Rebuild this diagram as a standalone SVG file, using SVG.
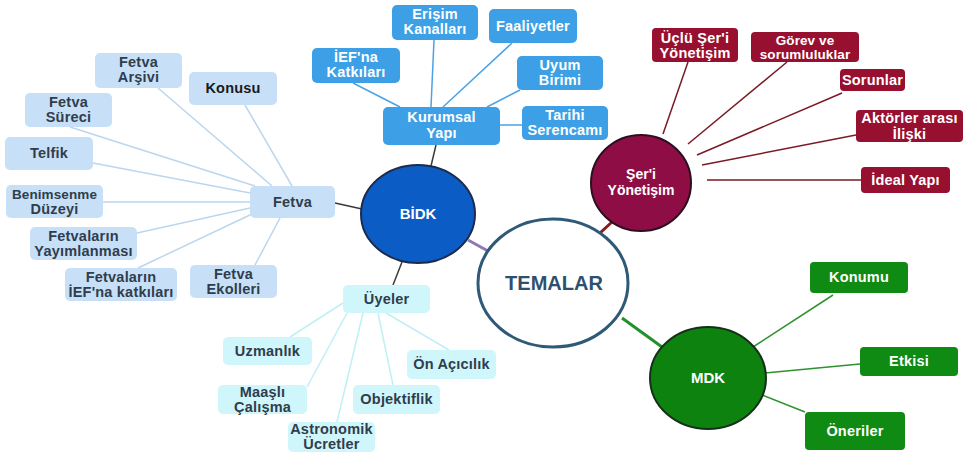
<svg xmlns="http://www.w3.org/2000/svg" width="968" height="452" viewBox="0 0 968 452">
<style>
text{font-family:"Liberation Sans",Arial,sans-serif;font-weight:bold;font-size:14.5px;text-anchor:middle;letter-spacing:0.2px}
.c{font-size:14px;letter-spacing:0}
.s{font-size:13.5px;letter-spacing:0.1px}
.w{fill:#fff}
.d{fill:#2f3d4c}
.k{fill:#1a1a1a}
.bb{fill:#3d9fe6}
.lb{fill:#c7e0f8}
.cy{fill:#cff6fa}
.mr{fill:#98102f}
.gr{fill:#0f8a12}
.l-bb{stroke:#4aa3e6;stroke-width:1.5;fill:none}
.l-lb{stroke:#bcd6ee;stroke-width:1.5;fill:none}
.l-cy{stroke:#bff0f5;stroke-width:1.5;fill:none}
.l-mr{stroke:#7a1a24;stroke-width:1.5;fill:none}
.l-gr{stroke:#2e922e;stroke-width:1.5;fill:none}
.l-dk{stroke:#3a3a3a;stroke-width:1.5;fill:none}
</style>
<rect width="968" height="452" fill="#fff"/>
<g id="connectors">
<line x1="468" y1="240" x2="488" y2="251" stroke="#8c7ab8" stroke-width="3"/>
<line x1="600" y1="233" x2="613" y2="221" stroke="#8a1a1a" stroke-width="3"/>
<line x1="622" y1="318" x2="662" y2="347" stroke="#23912a" stroke-width="3"/>
<line class="l-dk" x1="436" y1="145" x2="431" y2="166"/>
<line class="l-dk" x1="335" y1="203" x2="362" y2="209"/>
<line class="l-dk" x1="393" y1="285" x2="402" y2="262"/>
<line class="l-bb" x1="353" y1="83" x2="400" y2="107"/>
<line class="l-bb" x1="434" y1="40" x2="431" y2="107"/>
<line class="l-bb" x1="512" y1="43" x2="443" y2="107"/>
<line class="l-bb" x1="520" y1="90" x2="487" y2="107"/>
<line class="l-bb" x1="500" y1="125" x2="522" y2="125"/>
<line class="l-lb" x1="158" y1="88" x2="272" y2="186"/>
<line class="l-lb" x1="245" y1="105" x2="292" y2="186"/>
<line class="l-lb" x1="70" y1="127" x2="255" y2="186"/>
<line class="l-lb" x1="93" y1="163" x2="250" y2="193"/>
<line class="l-lb" x1="103" y1="202" x2="250" y2="202"/>
<line class="l-lb" x1="137" y1="233" x2="250" y2="208"/>
<line class="l-lb" x1="138" y1="268" x2="252" y2="214"/>
<line class="l-lb" x1="255" y1="265" x2="280" y2="218"/>
<line class="l-cy" x1="290" y1="337" x2="343" y2="303"/>
<line class="l-cy" x1="307" y1="387" x2="347" y2="313"/>
<line class="l-cy" x1="337" y1="422" x2="363" y2="313"/>
<line class="l-cy" x1="393" y1="385" x2="378" y2="313"/>
<line class="l-cy" x1="449" y1="350" x2="386" y2="313"/>
<line class="l-mr" x1="688" y1="62" x2="663" y2="134"/>
<line class="l-mr" x1="787" y1="62" x2="688" y2="144"/>
<line class="l-mr" x1="842" y1="93" x2="697" y2="155"/>
<line class="l-mr" x1="856" y1="135" x2="702" y2="165"/>
<line class="l-mr" x1="861" y1="180" x2="707" y2="180"/>
<line class="l-gr" x1="833" y1="295" x2="753" y2="347"/>
<line class="l-gr" x1="860" y1="364" x2="765" y2="373"/>
<line class="l-gr" x1="805" y1="412" x2="762" y2="395"/>
</g>
<g id="temalar">
<ellipse cx="553" cy="283" rx="75" ry="64" fill="#fff" stroke="#2e5a78" stroke-width="3"/>
<text x="554" y="290" style="font-size:20px;letter-spacing:0;fill:#2e5070">TEMALAR</text>
</g>
<g id="bidk">
<ellipse cx="418" cy="214" rx="57" ry="49" fill="#0b5cc4" stroke="#1d2b4f" stroke-width="2"/>
<text class="w c" x="418" y="219" style="font-size:15px">BİDK</text>
</g>
<g id="seri">
<ellipse cx="641" cy="183" rx="50" ry="48" fill="#8e0d44" stroke="#2b1020" stroke-width="2"/>
<text class="w c" x="641" y="179">Şer'i</text>
<text class="w c" x="641" y="195">Yönetişim</text>
</g>
<g id="mdk">
<ellipse cx="708" cy="378" rx="58" ry="51" fill="#0d820f" stroke="#15301a" stroke-width="2"/>
<text class="w c" x="708" y="383" style="font-size:15px">MDK</text>
</g>
<g id="kurumsal"><rect class="bb" x="383" y="107" width="117" height="38" rx="5"/><text class="w" x="441.5" y="122">Kurumsal</text><text class="w" x="441.5" y="138">Yapı</text></g>
<g id="ief-katkilari"><rect class="bb" x="312" y="48" width="88" height="35" rx="5"/><text class="w" x="356" y="62">İEF'na</text><text class="w" x="356" y="77">Katkıları</text></g>
<g id="erisim"><rect class="bb" x="392" y="5" width="86" height="35" rx="5"/><text class="w" x="435" y="19">Erişim</text><text class="w" x="435" y="34">Kanalları</text></g>
<g id="faaliyetler"><rect class="bb" x="489" y="9" width="88" height="34" rx="5"/><text class="w" x="533" y="31">Faaliyetler</text></g>
<g id="uyum"><rect class="bb" x="517" y="56" width="86" height="34" rx="5"/><text class="w" x="560" y="70">Uyum</text><text class="w" x="560" y="85">Birimi</text></g>
<g id="tarihi"><rect class="bb" x="522" y="106" width="86" height="34" rx="5"/><text class="w" x="565" y="120">Tarihi</text><text class="w" x="565" y="135">Serencamı</text></g>
<g id="fetva"><rect class="lb" x="250" y="186" width="85" height="32" rx="5"/><text class="d" x="292.5" y="207">Fetva</text></g>
<g id="fetva-arsivi"><rect class="lb" x="95" y="53" width="87" height="35" rx="5"/><text class="d" x="138.5" y="67">Fetva</text><text class="d" x="138.5" y="82">Arşivi</text></g>
<g id="konusu"><rect class="lb" x="189" y="72" width="88" height="33" rx="5"/><text class="k" x="233" y="93">Konusu</text></g>
<g id="fetva-sureci"><rect class="lb" x="25" y="93" width="87" height="34" rx="5"/><text class="d" x="68.5" y="107">Fetva</text><text class="d" x="68.5" y="122">Süreci</text></g>
<g id="telfik"><rect class="lb" x="5" y="137" width="88" height="33" rx="5"/><text class="d" x="49" y="158">Telfik</text></g>
<g id="benimsenme"><rect class="lb" x="6" y="185" width="97" height="33" rx="5"/><text class="d s" x="54.5" y="199">Benimsenme</text><text class="d" x="54.5" y="214">Düzeyi</text></g>
<g id="yayimlanmasi"><rect class="lb" x="30" y="227" width="107" height="33" rx="5"/><text class="d" x="83.5" y="241">Fetvaların</text><text class="d" x="83.5" y="256">Yayımlanması</text></g>
<g id="ief-katkilari-fetva"><rect class="lb" x="65" y="268" width="112" height="33" rx="5"/><text class="d" x="121" y="282">Fetvaların</text><text class="d" x="121" y="297">İEF'na katkıları</text></g>
<g id="ekolleri"><rect class="lb" x="190" y="265" width="87" height="33" rx="5"/><text class="d" x="233.5" y="279">Fetva</text><text class="d" x="233.5" y="294">Ekolleri</text></g>
<g id="uyeler"><rect class="cy" x="343" y="285" width="87" height="28" rx="5"/><text class="d" x="386.5" y="304">Üyeler</text></g>
<g id="uzmanlik"><rect class="cy" x="223" y="337" width="89" height="28" rx="5"/><text class="d" x="267.5" y="356">Uzmanlık</text></g>
<g id="maasli"><rect class="cy" x="218" y="385" width="89" height="29" rx="5"/><text class="d" x="262.5" y="397">Maaşlı</text><text class="d" x="262.5" y="412">Çalışma</text></g>
<g id="astronomik"><rect class="cy" x="288" y="422" width="87" height="30" rx="5"/><text class="d" x="331.5" y="434">Astronomik</text><text class="d" x="331.5" y="449">Ücretler</text></g>
<g id="objektiflik"><rect class="cy" x="353" y="385" width="87" height="29" rx="5"/><text class="d" x="396.5" y="404">Objektiflik</text></g>
<g id="on-acicilik"><rect class="cy" x="407" y="350" width="89" height="29" rx="5"/><text class="d" x="451.5" y="369">Ön Açıcılık</text></g>
<g id="uclu"><rect class="mr" x="652" y="28" width="86" height="34" rx="4"/><text class="w" x="695" y="43">Üçlü Şer'i</text><text class="w" x="695" y="58">Yönetişim</text></g>
<g id="gorev"><rect class="mr" x="751" y="32" width="108" height="30" rx="4"/><text class="w s" x="805" y="45">Görev ve</text><text class="w s" x="805" y="59">sorumluluklar</text></g>
<g id="sorunlar"><rect class="mr" x="840" y="69" width="65" height="22" rx="4"/><text class="w" x="872.5" y="85">Sorunlar</text></g>
<g id="aktorler"><rect class="mr" x="856" y="110" width="107" height="32" rx="4"/><text class="w" x="909.5" y="123">Aktörler arası</text><text class="w" x="909.5" y="139">İlişki</text></g>
<g id="ideal"><rect class="mr" x="861" y="167" width="89" height="26" rx="4"/><text class="w" x="905.5" y="185">İdeal Yapı</text></g>
<g id="konumu"><rect class="gr" x="810" y="262" width="98" height="31" rx="4"/><text class="w" x="859" y="282">Konumu</text></g>
<g id="etkisi"><rect class="gr" x="860" y="347" width="98" height="29" rx="4"/><text class="w" x="909" y="366">Etkisi</text></g>
<g id="oneriler"><rect class="gr" x="805" y="412" width="100" height="38" rx="4"/><text class="w" x="855" y="436">Öneriler</text></g>
</svg>
